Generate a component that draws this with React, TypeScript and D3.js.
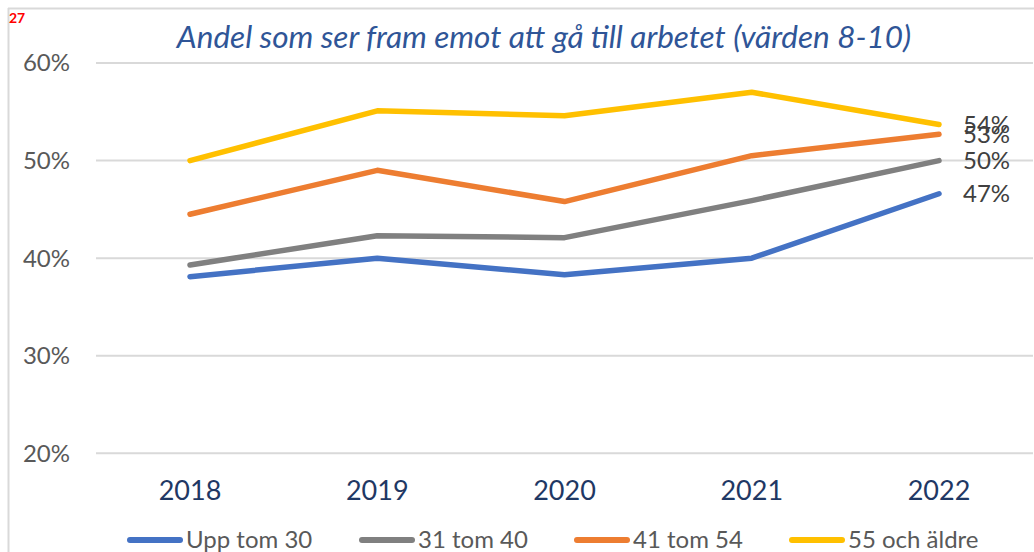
import React from "react";
import * as d3 from "d3";

const years = ["2018", "2019", "2020", "2021", "2022"];
const seriesNames = ["Upp tom 30", "31 tom 40", "41 tom 54", "55 och äldre"];
const uppTom30 = [38.1, 40.0, 38.3, 40.0, 46.6];
const tom31_40 = [39.3, 42.3, 42.1, 45.9, 50.0];
const tom41_54 = [44.5, 49.0, 45.8, 50.5, 52.7];
const och55 = [50.0, 55.1, 54.6, 57.0, 53.7];
const yTicks = [20, 30, 40, 50, 60];
const colors = ["#4472C4", "#808080", "#ED7D31", "#FFC000"];
const title = "Andel som ser fram emot att gå till arbetet (värden 8-10)";
const pageNumber = "27";

const FONT = "Lato, Carlito, 'Open Sans', sans-serif";

export default function App() {
  const W = 1034, H = 552;
  const allSeries = [uppTom30, tom31_40, tom41_54, och55];
  const x = d3.scalePoint<string>().domain(years).range([190, 939]);
  const y = d3.scaleLinear().domain([20, 60]).range([453.3, 63]);
  const line = d3
    .line<number>()
    .x((_, i) => x(years[i]) as number)
    .y((d) => y(d));

  const legendX = [127, 359, 574, 789];
  const legendY = 540;

  return (
    <svg
      width={W}
      height={H}
      style={{ position: "absolute", left: 0, top: 0, background: "#fff" }}
      fontFamily={FONT}
    >
      {/* frame lines */}
      <line x1={8} x2={1034} y1={8.5} y2={8.5} stroke="#d9d9d9" strokeWidth={2} />
      <line x1={8.5} x2={8.5} y1={8} y2={H} stroke="#d9d9d9" strokeWidth={2} />

      <text x={9} y={23} fill="#ff0000" fontWeight="bold" fontSize={14}>
        {pageNumber}
      </text>

      <text
        x={544}
        y={48}
        textAnchor="middle"
        fill="#2F5597"
        fontStyle="italic"
        fontSize={31.5}
      >
        {title}
      </text>

      {/* gridlines */}
      {yTicks.map((t) => (
        <g key={t}>
          <line x1={96} x2={1033} y1={y(t)} y2={y(t)} stroke="#d9d9d9" strokeWidth={2} />
          <text
            x={70}
            y={y(t)}
            dy="0.35em"
            textAnchor="end"
            fill="#595959"
            fontSize={24}
          >
            {t}%
          </text>
        </g>
      ))}

      {/* x labels */}
      {years.map((yr) => (
        <text
          key={yr}
          x={x(yr)}
          y={500}
          textAnchor="middle"
          fill="#1F3864"
          fontSize={27}
        >
          {yr}
        </text>
      ))}

      {/* lines */}
      {allSeries.map((s, i) => (
        <path
          key={i}
          d={line(s) || ""}
          fill="none"
          stroke={colors[i]}
          strokeWidth={5.5}
          strokeLinecap="round"
          strokeLinejoin="round"
        />
      ))}

      {/* end labels */}
      {allSeries.map((s, i) => (
        <text
          key={"l" + i}
          x={963}
          y={y(s[s.length - 1])}
          dy="0.35em"
          fill="#404040"
          fontSize={24}
        >
          {Math.round(s[s.length - 1])}%
        </text>
      ))}

      {/* legend */}
      {seriesNames.map((n, i) => (
        <g key={n}>
          <line
            x1={legendX[i] + 3}
            x2={legendX[i] + 53}
            y1={legendY}
            y2={legendY}
            stroke={colors[i]}
            strokeWidth={6}
            strokeLinecap="round"
          />
          <text x={legendX[i] + 59} y={legendY} dy="0.35em" fill="#595959" fontSize={24}>
            {n}
          </text>
        </g>
      ))}
    </svg>
  );
}
